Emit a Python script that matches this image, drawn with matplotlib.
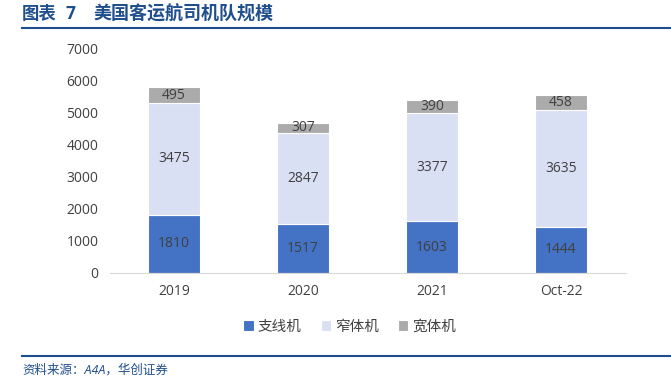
import matplotlib
matplotlib.use("Agg")
import matplotlib.pyplot as plt
import numpy as np

plt.rcParams['font.family'] = ['Open Sans', 'Noto Sans CJK SC', 'DejaVu Sans']

categorias = ["2019", "2020", "2021", "Oct-22"]
regional = [1810, 1517, 1603, 1444]
narrow = [3475, 2847, 3377, 3635]
wide = [495, 307, 390, 458]
series_names = ["支线机", "窄体机", "宽体机"]

COR_AZUL = "#4472C4"
COR_CLARO = "#DAE0F3"
COR_CINZA = "#ABABAB"
COR_TITULO = "#1F4E8C"
COR_TEXTO = "#404040"

fig = plt.figure(figsize=(6.71, 3.89), dpi=100)
W, H = 671, 389
ax = fig.add_axes([109.5 / W, 1 - 273 / H, 516 / W, 225 / H])

x = np.arange(len(categorias))
largura = 0.4
b1 = ax.bar(x, regional, largura, color=COR_AZUL, edgecolor="white", linewidth=0.8, label=series_names[0])
b2 = ax.bar(x, narrow, largura, bottom=regional, color=COR_CLARO, edgecolor="white", linewidth=0.8,
            label=series_names[1])
base3 = np.array(regional) + np.array(narrow)
b3 = ax.bar(x, wide, largura, bottom=base3, color=COR_CINZA, edgecolor="white", linewidth=0.8,
            label=series_names[2])

for bars, vals, bottoms in ((b1, regional, np.zeros(4)), (b2, narrow, regional), (b3, wide, base3)):
    for bar, v, b in zip(bars, vals, bottoms):
        ax.text(bar.get_x() + bar.get_width() / 2, b + v / 2, f"{v}", ha="center", va="center",
                fontsize=10, color=COR_TEXTO)

ax.set_xlim(-0.5, 3.5)
ax.set_ylim(0, 7000)
ax.set_yticks(range(0, 7001, 1000))
ax.set_xticks(x)
ax.set_xticklabels(categorias)
ax.tick_params(axis="both", length=0, labelsize=10, labelcolor=COR_TEXTO)
ax.tick_params(axis="x", pad=8)
ax.tick_params(axis="y", pad=8)
for s in ("top", "right", "left"):
    ax.spines[s].set_visible(False)
ax.spines["bottom"].set_color("#D9D9D9")

fig.legend(handles=[b1, b2, b3], loc="center", bbox_to_anchor=(350 / W, 1 - 327 / H), ncol=3,
           frameon=False, fontsize=10.5, handlelength=0.7, handleheight=0.7, handletextpad=0.3,
           columnspacing=1.3, labelcolor=COR_TEXTO)

fig.text(22 / W, 1 - 14 / H, "图表", fontsize=12.5, weight="bold",
         color=COR_TITULO, ha="left", va="center")
fig.text(66 / W, 1 - 14 / H, "7", fontsize=12.5, weight="bold",
         color=COR_TITULO, ha="left", va="center")
fig.text(93 / W, 1 - 14 / H, "美国客运航司机队规模", fontsize=13, weight="bold",
         color=COR_TITULO, ha="left", va="center")
fig.add_artist(plt.Line2D([22 / W, 1.0], [1 - 28 / H, 1 - 28 / H], color=COR_TITULO, linewidth=1.5))
fig.add_artist(plt.Line2D([22 / W, 1.0], [1 - 356 / H, 1 - 356 / H], color=COR_TITULO, linewidth=1.5))
fig.text(22 / W, 1 - 370 / H, "资料来源：A4A，华创证券", fontsize=9, style="italic",
         color=COR_TITULO, ha="left", va="center")

fig.savefig("out.png", dpi=100, facecolor="white")
